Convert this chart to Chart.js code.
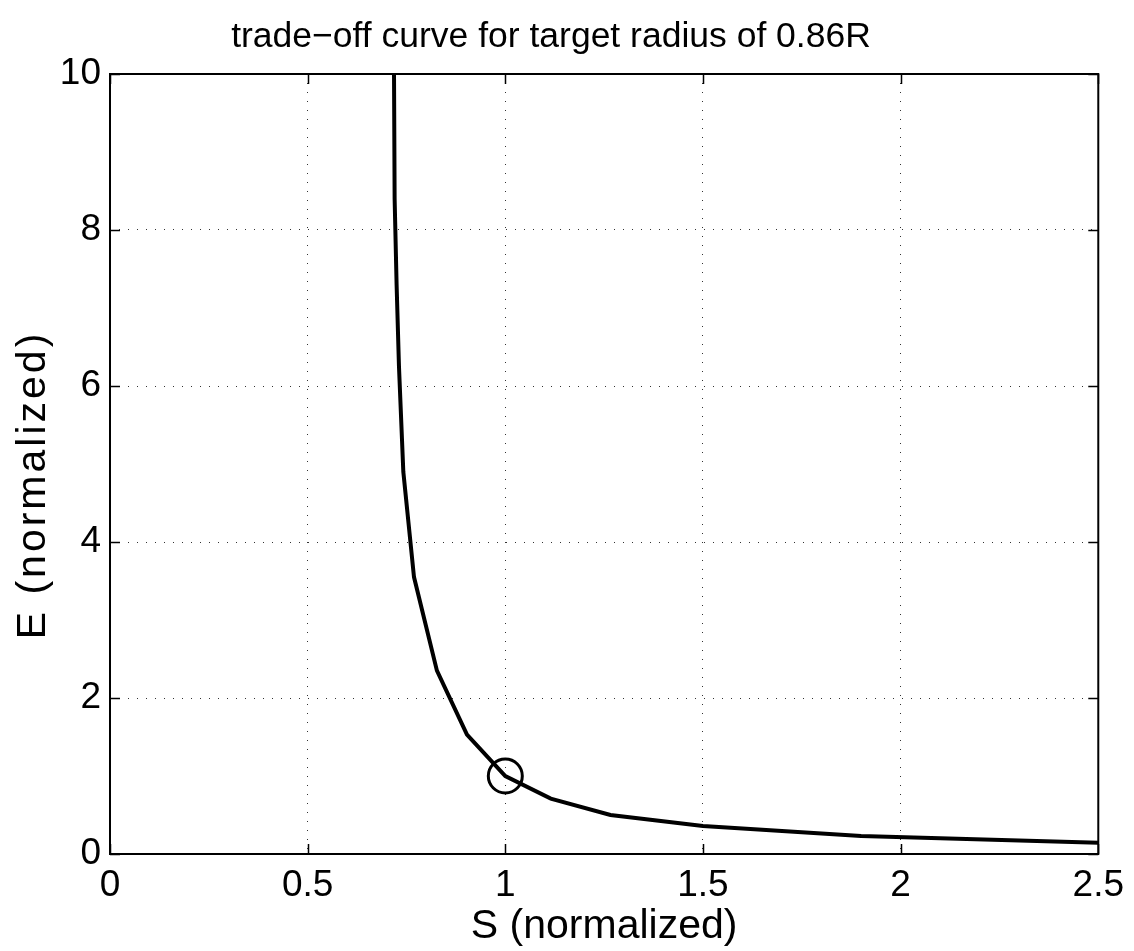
<!DOCTYPE html>
<html>
<head>
<meta charset="utf-8">
<title>trade-off curve</title>
<script src="https://cdn.jsdelivr.net/npm/chart.js@4"></script>
<style>
  html, body { margin: 0; padding: 0; background: #fff; }
  #wrap { width: 1134px; height: 951px; }
</style>
</head>
<body>
<div id="wrap"><canvas id="chart"></canvas></div>
<script>
// trade-off curve samples (S vs E, both normalized)
const sValues = [0.717, 0.72, 0.725, 0.731, 0.742, 0.769, 0.827, 0.903, 1.0, 1.115, 1.266, 1.5, 1.9, 2.5];
const eValues = [11.5, 8.4, 7.3, 6.25, 4.9, 3.55, 2.35, 1.53, 1.0, 0.71, 0.5, 0.36, 0.23, 0.145];
// operating point marked with a circle
const markS = [1.0];
const markE = [1.0];
const xTicks = [0, 0.5, 1, 1.5, 2, 2.5];
const yTicks = [0, 2, 4, 6, 8, 10];

const FONT = '"Liberation Sans", Arial, Helvetica, sans-serif';
const Y_LABEL = 'E (normalized)';

// box around the plot with inward tick marks on all four sides, plus the y label
const boxTicks = {
  id: 'boxTicks',
  afterDraw(chart) {
    const { ctx, chartArea: a, scales } = chart;
    const len = 10;
    ctx.save();
    ctx.strokeStyle = '#000';
    ctx.lineWidth = 1.5;
    ctx.beginPath();
    xTicks.forEach(v => {
      const px = Math.round(scales.x.getPixelForValue(v)) + 0.5;
      ctx.moveTo(px, a.bottom); ctx.lineTo(px, a.bottom - len);
      ctx.moveTo(px, a.top); ctx.lineTo(px, a.top + len);
    });
    yTicks.forEach(v => {
      const py = Math.round(scales.y.getPixelForValue(v)) + 0.5;
      ctx.moveTo(a.left, py); ctx.lineTo(a.left + len, py);
      ctx.moveTo(a.right, py); ctx.lineTo(a.right - len, py);
    });
    ctx.stroke();
    ctx.lineWidth = 2;
    ctx.strokeRect(a.left, a.top, a.right - a.left, a.bottom - a.top);

    // rotated y label, a bit spaced out and sitting slightly below centre
    ctx.translate(34, (a.top + a.bottom) / 2 + 21);
    ctx.rotate(-Math.PI / 2);
    ctx.font = '41px ' + FONT;
    ctx.letterSpacing = '3px';
    ctx.fillStyle = '#000';
    ctx.textAlign = 'center';
    ctx.textBaseline = 'middle';
    ctx.fillText(Y_LABEL, 0, 0);
    ctx.restore();
  }
};

const ctx = document.getElementById('chart').getContext('2d');
new Chart(ctx, {
  type: 'scatter',
  data: {
    datasets: [
      {
        data: sValues.map((s, i) => ({ x: s, y: eValues[i] })),
        showLine: true,
        borderColor: '#000',
        borderWidth: 4,
        pointRadius: 0,
        tension: 0
      },
      {
        data: markS.map((s, i) => ({ x: s, y: markE[i] })),
        showLine: false,
        pointRadius: 17,
        pointBorderWidth: 3,
        pointBorderColor: '#000',
        pointBackgroundColor: 'rgba(0,0,0,0)'
      }
    ]
  },
  options: {
    responsive: true,
    maintainAspectRatio: false,
    animation: false,
    layout: { padding: { top: 0, right: 32, bottom: 0, left: 0 } },
    plugins: {
      legend: { display: false },
      tooltip: { enabled: false },
      title: {
        display: true,
        text: 'trade\u2212off curve for target radius of 0.86R',
        color: '#000',
        font: { family: FONT, size: 35.5, weight: 'normal', lineHeight: 1.2 },
        padding: { top: 16, bottom: 15.4 }
      }
    },
    scales: {
      x: {
        type: 'linear',
        min: 0,
        max: 2.5,
        afterFit: s => { s.height = 97; },
        afterBuildTicks: s => { s.ticks = xTicks.map(v => ({ value: v })); },
        ticks: {
          color: '#000',
          padding: 10,
          font: { family: FONT, size: 37 },
          maxRotation: 0,
          callback: v => String(v)
        },
        grid: { color: '#333', lineWidth: 1, drawTicks: false },
        border: { display: false, dash: [1, 8] },
        title: {
          display: true,
          text: 'S (normalized)',
          color: '#000',
          font: { family: FONT, size: 41, lineHeight: 1.2 },
          padding: { top: 0, bottom: 0 }
        }
      },
      y: {
        type: 'linear',
        min: 0,
        max: 10,
        afterFit: s => { s.width = 110; },
        afterBuildTicks: s => { s.ticks = yTicks.map(v => ({ value: v })); },
        ticks: {
          color: '#000',
          padding: 9,
          font: { family: FONT, size: 37 },
          callback: v => String(v)
        },
        grid: { color: '#333', lineWidth: 1, drawTicks: false },
        border: { display: false, dash: [1, 8] }
      }
    }
  },
  plugins: [boxTicks]
});
</script>
</body>
</html>
